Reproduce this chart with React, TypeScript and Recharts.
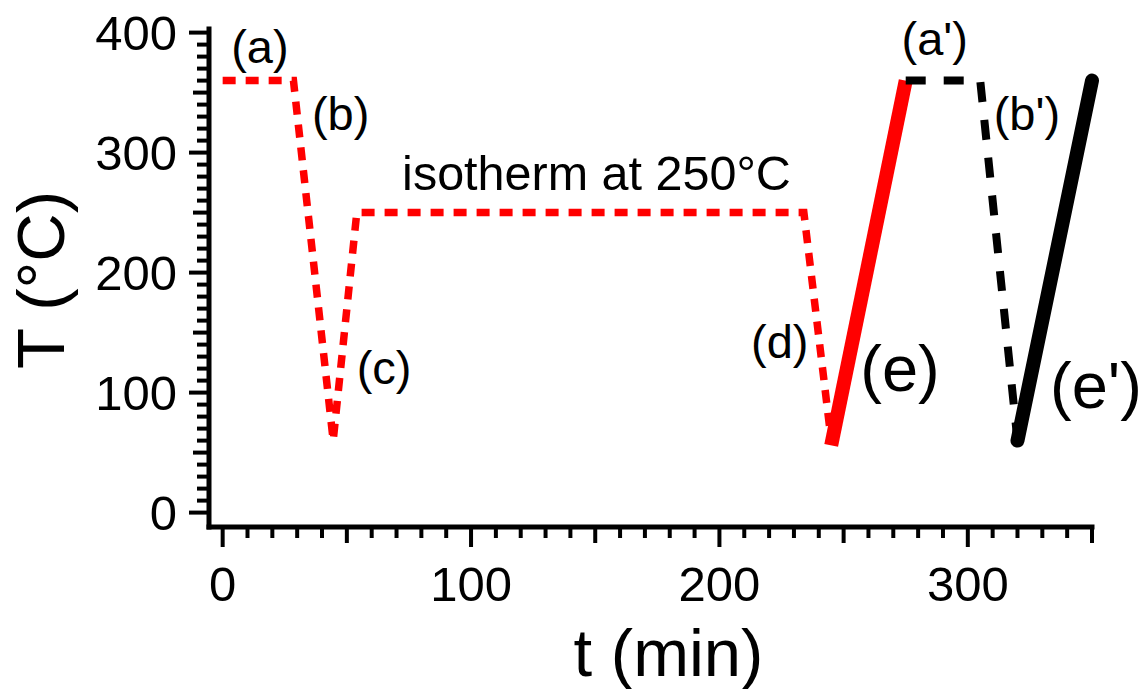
import React from 'react';
import { LineChart, Line, XAxis, YAxis, ReferenceDot, Label } from 'recharts';

const FONT = '"Liberation Sans", Arial, Helvetica, sans-serif';

// first cycle: hold (a), quench (b), reheat (c), isotherm, cool (d)
const cycleTime = [0, 28.5, 44.5, 54, 234, 245];
const cycleTemp = [360, 360, 60, 250, 250, 60];

// heating ramp (e)
const rampTime = [245, 275];
const rampTemp = [56, 360];

// reference cycle: hold (a') and quench (b')
const refTime = [275, 305, 320];
const refTemp = [360, 360, 60];

// heating ramp (e')
const refRampTime = [320, 350];
const refRampTemp = [60, 360];

const xTicks = Array.from({ length: 36 }, (_, i) => i * 10);
const yTicks = Array.from({ length: 41 }, (_, i) => i * 10);

const notes = [
  { text: '(a)', t: 15, T: 375, size: 47 },
  { text: '(b)', t: 47.5, T: 319, size: 47 },
  { text: '(c)', t: 65, T: 107, size: 47 },
  { text: 'isotherm at 250°C', t: 150.5, T: 269, size: 48.5 },
  { text: '(d)', t: 224.3, T: 129, size: 47 },
  { text: '(e)', t: 272.7, T: 101, size: 65 },
  { text: "(a')", t: 286.7, T: 381.5, size: 47 },
  { text: "(b')", t: 323.8, T: 319, size: 47 },
  { text: "(e')", t: 351.6, T: 87.5, size: 65 },
];

const toPoints = (ts: number[], vs: number[]) => ts.map((t, i) => ({ t, T: vs[i] }));

const XTick = ({ x, y, payload }: any) => {
  const v = payload.value;
  const major = v % 100 === 0;
  const len = major ? 20 : v % 50 === 0 ? 16 : 11;
  return (
    <g>
      <line x1={x} x2={x} y1={y} y2={y + len} stroke="#000" strokeWidth={4} />
      {major && (
        <text x={x} y={y + 74} textAnchor="middle" fontSize={49} fontFamily={FONT} fill="#000">
          {v}
        </text>
      )}
    </g>
  );
};

const YTick = ({ x, y, payload }: any) => {
  const v = payload.value;
  const major = v % 100 === 0;
  const len = major ? 20 : v % 50 === 0 ? 16 : 12;
  return (
    <g>
      <line x1={x} x2={x - len} y1={y} y2={y} stroke="#000" strokeWidth={4} />
      {major && (
        <text x={x - 32} y={y + 17.5} textAnchor="end" fontSize={49} fontFamily={FONT} fill="#000">
          {v}
        </text>
      )}
    </g>
  );
};

export default function App() {
  return (
    <div style={{ position: 'absolute', left: 0, top: 0, background: '#fff' }}>
      <LineChart width={1145} height={689} margin={{ top: 29, right: 53, bottom: 102, left: 149 }}>
        <XAxis
          dataKey="t"
          type="number"
          domain={[-5.5, 350]}
          ticks={xTicks}
          interval={0}
          tickSize={0}
          tickMargin={0}
          tickLine={false}
          tick={(p: any) => <XTick {...p} />}
          axisLine={{ stroke: '#000', strokeWidth: 5, strokeLinecap: 'square' }}
          height={60}
        >
          <Label
            content={({ viewBox }: any) => (
              <text
                x={viewBox.x + viewBox.width / 2 + 18}
                y={viewBox.y + 149}
                textAnchor="middle"
                fontSize={67}
                fontFamily={FONT}
                fill="#000"
              >
                t (min)
              </text>
            )}
          />
        </XAxis>
        <YAxis
          dataKey="T"
          type="number"
          domain={[-12, 403]}
          ticks={yTicks}
          interval={0}
          tickSize={0}
          tickMargin={0}
          tickLine={false}
          tick={(p: any) => <YTick {...p} />}
          axisLine={{ stroke: '#000', strokeWidth: 5, strokeLinecap: 'square' }}
          width={60}
        >
          <Label
            content={({ viewBox }: any) => {
              const cx = 64;
              const cy = viewBox.y + viewBox.height / 2 + 2;
              return (
                <text
                  x={cx}
                  y={cy}
                  transform={`rotate(-90 ${cx} ${cy})`}
                  textAnchor="middle"
                  fontSize={67}
                  fontFamily={FONT}
                  fill="#000"
                >
                  T (°C)
                </text>
              );
            }}
          />
        </YAxis>

        <Line
          data={toPoints(cycleTime, cycleTemp)}
          dataKey="T"
          type="linear"
          stroke="#ff0000"
          strokeWidth={7.5}
          strokeDasharray="13 10"
          dot={false}
          isAnimationActive={false}
        />
        <Line
          data={toPoints(rampTime, rampTemp)}
          dataKey="T"
          type="linear"
          stroke="#ff0000"
          strokeWidth={14}
          dot={false}
          isAnimationActive={false}
        />
        <Line
          data={toPoints(refTime, refTemp)}
          dataKey="T"
          type="linear"
          stroke="#000"
          strokeWidth={8}
          strokeDasharray="20 18"
          dot={false}
          isAnimationActive={false}
        />
        <Line
          data={toPoints(refRampTime, refRampTemp)}
          dataKey="T"
          type="linear"
          stroke="#000"
          strokeWidth={14}
          strokeLinecap="round"
          dot={false}
          isAnimationActive={false}
        />

        {notes.map((n) => (
          <ReferenceDot
            key={n.text}
            x={n.t}
            y={n.T}
            r={0}
            ifOverflow="visible"
            shape={(p: any) => (
              <text
                x={p.cx}
                y={p.cy}
                textAnchor="middle"
                fontSize={n.size}
                fontFamily={FONT}
                fill="#000"
              >
                {n.text}
              </text>
            )}
          />
        ))}
      </LineChart>
    </div>
  );
}
